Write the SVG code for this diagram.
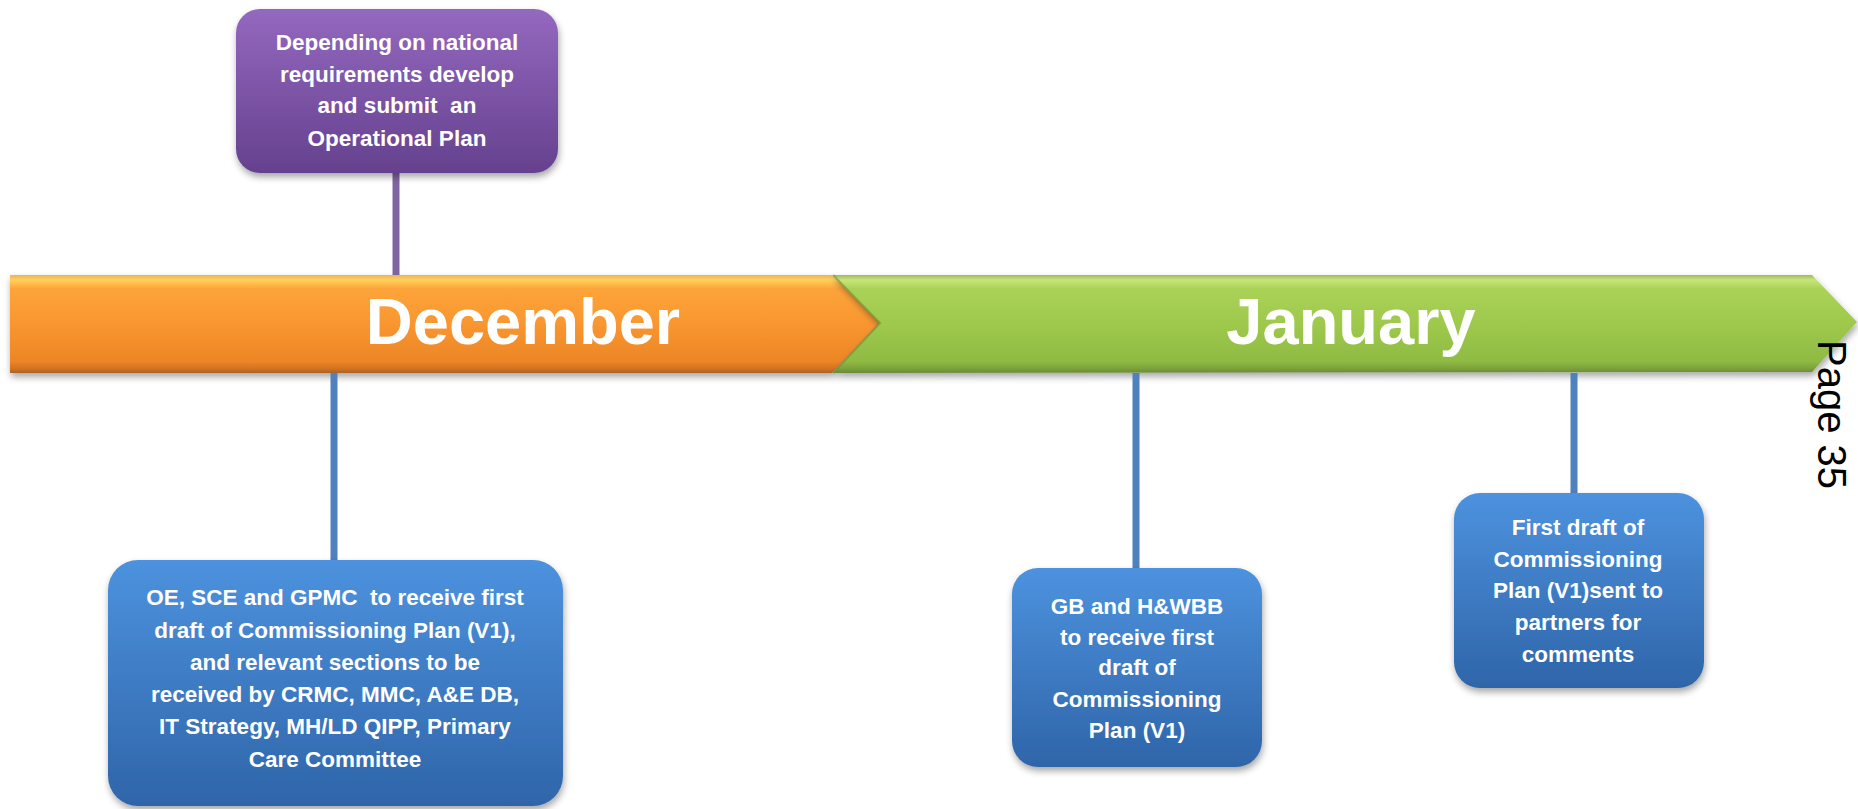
<svg xmlns="http://www.w3.org/2000/svg" width="1858" height="809" viewBox="0 0 1858 809">
<style>
.box text{font-family:"Liberation Sans",Arial,sans-serif;font-weight:bold;font-size:22.5px;fill:#fff;text-anchor:middle;white-space:pre}
.month{font-family:"Liberation Sans",Arial,sans-serif;font-weight:bold;font-size:65px;fill:#fff;text-anchor:middle}
.page{font-family:"Liberation Sans",Arial,sans-serif;font-size:40px;fill:#000}
.conn-b{stroke:#4F81BD;stroke-width:7}
.conn-p{stroke:#8064A2;stroke-width:7}
</style>
<defs>
<linearGradient id="gOr" x1="0" y1="0" x2="0" y2="1">
<stop offset="0" stop-color="#e9b45a"/>
<stop offset="0.05" stop-color="#ffd05a"/>
<stop offset="0.14" stop-color="#fda43a"/>
<stop offset="0.5" stop-color="#f99630"/>
<stop offset="0.88" stop-color="#ec8626"/>
<stop offset="0.95" stop-color="#d67420"/>
<stop offset="1" stop-color="#a8642a"/>
</linearGradient>
<linearGradient id="gGr" x1="0" y1="0" x2="0" y2="1">
<stop offset="0" stop-color="#9db868"/>
<stop offset="0.05" stop-color="#c9e577"/>
<stop offset="0.14" stop-color="#aad258"/>
<stop offset="0.5" stop-color="#9ec94c"/>
<stop offset="0.88" stop-color="#8fbb43"/>
<stop offset="0.95" stop-color="#7ea33a"/>
<stop offset="1" stop-color="#6a8a3a"/>
</linearGradient>
<linearGradient id="gPu" x1="0" y1="0" x2="0" y2="1">
<stop offset="0" stop-color="#9468bf"/>
<stop offset="1" stop-color="#65418e"/>
</linearGradient>
<linearGradient id="gBl" x1="0" y1="0" x2="0" y2="1">
<stop offset="0" stop-color="#4d92de"/>
<stop offset="1" stop-color="#2f65a9"/>
</linearGradient>
<filter id="sh" x="-10%" y="-10%" width="120%" height="130%">
<feDropShadow dx="1" dy="4" stdDeviation="3.5" flood-color="#000" flood-opacity="0.35"/>
</filter>
</defs>

<g id="timeline">
<polygon id="december-bar" points="10,275 832,275 880,323 832,373 10,373" fill="url(#gOr)" filter="url(#sh)"/>
<polygon id="january-bar" points="833,275 1812,275 1857,322 1812,372 833,373 880,323" fill="url(#gGr)" filter="url(#sh)"/>
<polyline points="833,275 880,323 833,373" fill="none" stroke="#6b8a30" stroke-width="2" opacity="0.6"/>
<text class="month" x="523" y="344">December</text>
<text class="month" x="1351" y="344">January</text>
</g>

<g id="connectors">
<line class="conn-p" x1="396" y1="172" x2="396" y2="275"/>
<line class="conn-b" x1="334" y1="373" x2="334" y2="561"/>
<line class="conn-b" x1="1136" y1="373" x2="1136" y2="569"/>
<line class="conn-b" x1="1574" y1="373" x2="1574" y2="494"/>
</g>

<g id="node-operational" class="box">
<rect x="236" y="9" width="322" height="164" rx="24" fill="url(#gPu)" filter="url(#sh)"/>
<text x="397" y="50">Depending on national</text>
<text x="397" y="82">requirements develop</text>
<text x="397" y="113">and submit  an</text>
<text x="397" y="146">Operational Plan</text>
</g>

<g id="node-oe" class="box">
<rect x="108" y="560" width="455" height="246" rx="30" fill="url(#gBl)" filter="url(#sh)"/>
<text x="335" y="605">OE, SCE and GPMC  to receive first</text>
<text x="335" y="638">draft of Commissioning Plan (V1),</text>
<text x="335" y="670">and relevant sections to be</text>
<text x="335" y="702">received by CRMC, MMC, A&amp;E DB,</text>
<text x="335" y="734">IT Strategy, MH/LD QIPP, Primary</text>
<text x="335" y="767">Care Committee</text>
</g>

<g id="node-gb" class="box">
<rect x="1012" y="568" width="250" height="199" rx="26" fill="url(#gBl)" filter="url(#sh)"/>
<text x="1137" y="614">GB and H&amp;WBB</text>
<text x="1137" y="645">to receive first</text>
<text x="1137" y="675">draft of</text>
<text x="1137" y="707">Commissioning</text>
<text x="1137" y="738">Plan (V1)</text>
</g>

<g id="node-partners" class="box">
<rect x="1454" y="493" width="250" height="195" rx="26" fill="url(#gBl)" filter="url(#sh)"/>
<text x="1578" y="535">First draft of</text>
<text x="1578" y="567">Commissioning</text>
<text x="1578" y="598">Plan (V1)sent to</text>
<text x="1578" y="630">partners for</text>
<text x="1578" y="662">comments</text>
</g>

<text class="page" transform="translate(1818,340) rotate(90)">Page 35</text>
</svg>
